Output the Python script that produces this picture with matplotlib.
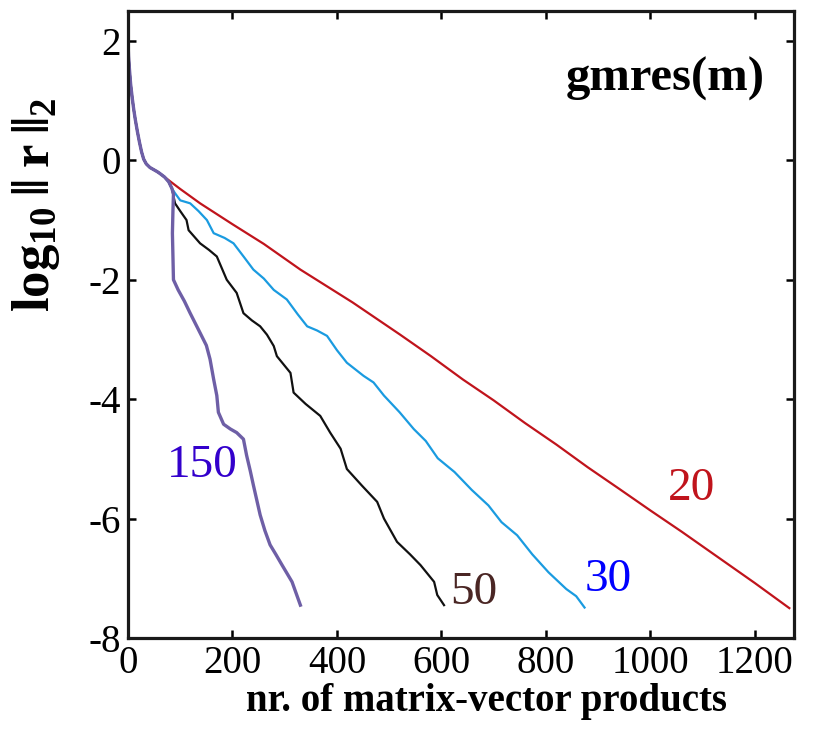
import matplotlib
matplotlib.use("Agg")
import matplotlib.pyplot as plt

plt.rcParams['font.family'] = ['Liberation Serif', 'DejaVu Serif']
plt.rcParams['mathtext.fontset'] = 'custom'
plt.rcParams['mathtext.rm'] = 'Liberation Serif:bold'
plt.rcParams['mathtext.bf'] = 'Liberation Serif:bold'
plt.rcParams['mathtext.it'] = 'Liberation Serif:bold'
plt.rcParams['axes.unicode_minus'] = False

# common start (all restarts identical at the beginning)
start_x = [0, 1, 3, 5, 8, 11, 14, 18, 22, 26, 30, 35, 42, 50, 56, 61]
start_y = [2.0, 1.75, 1.5, 1.28, 1.05, 0.85, 0.68, 0.48, 0.3, 0.14, 0.02, -0.06,
           -0.12, -0.16, -0.19, -0.22]

# shared part of the larger restarts before they split
mid_x = [70, 78, 84]
mid_y = [-0.28, -0.36, -0.47]

# gmres(20)
m20_x = [100, 138, 200, 260, 330, 430, 521, 580, 641, 700, 760, 820, 880, 940,
         1001, 1060, 1130, 1200, 1266]
m20_y = [-0.48, -0.72, -1.07, -1.40, -1.83, -2.38, -2.92, -3.28, -3.67, -4.02,
         -4.40, -4.76, -5.14, -5.50, -5.87, -6.22, -6.65, -7.08, -7.50]

# gmres(30)
m30_x = [90, 100, 119, 135, 151, 164, 185, 202, 222, 240, 260, 279, 304, 325, 343,
         362, 381, 400, 419, 451, 470, 490, 520, 547, 570, 593, 625, 658, 690, 715,
         745, 774, 805, 839, 858, 874]
m30_y = [-0.55, -0.67, -0.72, -0.85, -1.00, -1.22, -1.30, -1.39, -1.62, -1.83,
         -1.98, -2.17, -2.33, -2.58, -2.78, -2.85, -2.94, -3.18, -3.39, -3.61,
         -3.72, -3.94, -4.22, -4.50, -4.70, -4.99, -5.22, -5.52, -5.78, -6.06,
         -6.28, -6.60, -6.90, -7.18, -7.30, -7.49]

# gmres(50)
m50_x = [90, 100, 112, 116, 138, 155, 170, 189, 208, 221, 237, 253, 266, 279, 285,
         311, 317, 340, 368, 387, 407, 419, 448, 477, 490, 515, 540, 560, 586, 592, 605]
m50_y = [-0.72, -0.85, -1.00, -1.17, -1.39, -1.50, -1.61, -2.00, -2.22, -2.56,
         -2.68, -2.78, -2.92, -3.11, -3.28, -3.56, -3.89, -4.08, -4.28, -4.56,
         -4.83, -5.17, -5.45, -5.72, -6.00, -6.39, -6.60, -6.78, -7.06, -7.28, -7.45]

# gmres(150)
m150_x = [87, 86, 85, 86, 87, 96, 108, 119, 138, 150, 157, 164, 170, 173, 183,
          196, 208, 221, 227, 234, 240, 253, 262, 272, 283, 295, 314, 330]
m150_y = [-0.56, -0.85, -1.22, -1.60, -2.00, -2.17, -2.36, -2.56, -2.89, -3.10,
          -3.33, -3.67, -3.94, -4.22, -4.42, -4.50, -4.56, -4.67, -4.94, -5.20,
          -5.44, -5.94, -6.20, -6.44, -6.60, -6.78, -7.06, -7.45]

x_ticks = [0, 200, 400, 600, 800, 1000, 1200]
y_ticks = [-8, -6, -4, -2, 0, 2]

fig = plt.figure(figsize=(8.19, 7.39), dpi=100)
ax = fig.add_axes([0.1563, 0.1367, 0.8132, 0.8483])

c20, c30, c50, c150 = '#c0141c', '#1a9be0', '#111111', '#6e5fa6'
ax.plot(start_x + m20_x, start_y + m20_y, color=c20, lw=1.6)
ax.plot(start_x + mid_x + m30_x, start_y + mid_y + m30_y, color=c30, lw=1.6)
ax.plot(start_x + mid_x + m50_x, start_y + mid_y + m50_y, color=c50, lw=1.6)
ax.plot(start_x + mid_x + m150_x, start_y + mid_y + m150_y, color=c150, lw=2.4)

fs = 34
ax.text(142, -5.12, '150', color='#3300cc', fontsize=fs, ha='center', va='center')
ax.text(662, -7.25, '50', color='#4a2624', fontsize=fs, ha='center', va='center')
ax.text(919, -7.02, '30', color='#0000ff', fontsize=fs, ha='center', va='center')
ax.text(1078, -5.50, '20', color='#c0141c', fontsize=fs, ha='center', va='center')
ax.text(1028, 1.37, 'gmres(m)', color='black', fontsize=35, fontweight='bold',
        ha='center', va='center')

ax.set_xlim(0, 1275)
ax.set_ylim(-8, 2.5)
ax.set_xticks(x_ticks)
ax.set_yticks(y_ticks)
ax.set_xticklabels([str(v) for v in x_ticks])
ax.set_yticklabels([str(v) for v in y_ticks])
ax.tick_params(direction='in', length=6, width=1.8, top=True, right=True,
               labelsize=28, pad=5)
for s in ax.spines.values():
    s.set_linewidth(2.3)
    s.set_color('#1a1a1a')

fig.text(487 / 819, 1 - 702 / 739, 'nr. of matrix-vector products', fontsize=28,
         fontweight='bold', ha='center', va='center')
fig.text(36 / 819, 1 - 205 / 739,
         r'log$_{10}$' + '\u2009\u2016\u2009r\u2009\u2016' + r'$_{2}$',
         fontsize=38, fontweight='bold', rotation=90, ha='center', va='center')

fig.savefig('out.png', dpi=100)
